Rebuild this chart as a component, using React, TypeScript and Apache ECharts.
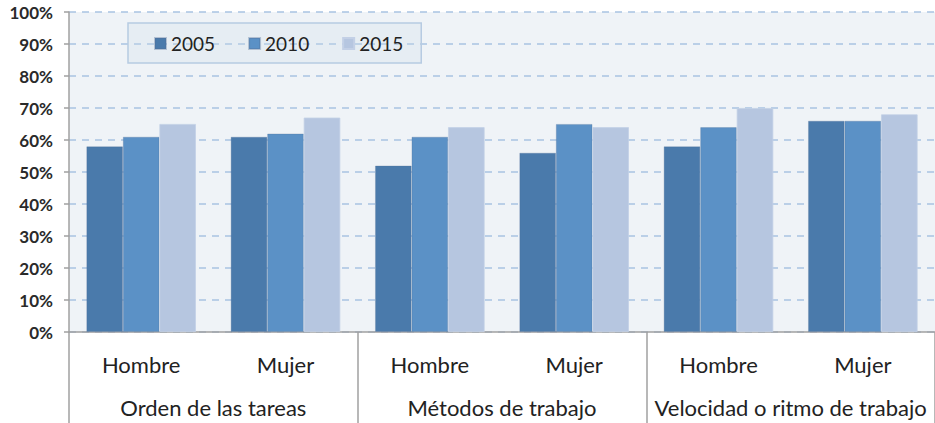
import React, { useEffect, useRef } from "react";
import * as echarts from "echarts";

const subCategories = ["Hombre", "Mujer", "Hombre", "Mujer", "Hombre", "Mujer"];
const groups = ["Orden de las tareas", "Métodos de trabajo", "Velocidad o ritmo de trabajo"];
const years = ["2005", "2010", "2015"];
const values2005 = [58, 61, 52, 56, 58, 66];
const values2010 = [61, 62, 61, 65, 64, 66];
const values2015 = [65, 67, 64, 64, 70, 68];
const yearColors = ["#4a7aab", "#5b91c6", "#b6c6e0"];

const FONT = "Lato, 'Open Sans', sans-serif";

export default function App() {
  const ref = useRef<HTMLDivElement>(null);
  useEffect(() => {
    if (!ref.current) return;
    const chart = echarts.init(ref.current, null, { renderer: "svg" });
    const seriesData = [values2005, values2010, values2015];
    chart.setOption({
      animation: false,
      backgroundColor: "#ffffff",
      textStyle: { fontFamily: FONT },
      grid: {
        left: 69,
        top: 12,
        width: 871,
        height: 320,
        show: true,
        backgroundColor: "#eff3f7",
        borderWidth: 0,
      },
      legend: {
        left: 128,
        top: 23,
        itemWidth: 11,
        itemHeight: 11,
        itemGap: 33,
        padding: [11, 18, 10, 26],
        backgroundColor: "rgba(205,218,232,0.25)",
        borderColor: "#b7cbe2",
        borderWidth: 1.5,
        icon: "rect",
        textStyle: { fontSize: 19, color: "#222", fontFamily: FONT },
        data: years,
      },
      xAxis: [
        {
          type: "category",
          data: subCategories,
          position: "bottom",
          axisLine: { show: true, lineStyle: { color: "#a0a0a0", width: 1.5 } },
          axisTick: { show: false },
          axisLabel: { interval: 0, margin: 21, fontSize: 22, color: "#222", fontFamily: FONT },
          splitLine: { show: false },
        },
        {
          type: "category",
          data: groups,
          position: "bottom",
          offset: 0,
          axisLine: { show: false },
          axisTick: { show: true, interval: 0, length: 100, lineStyle: { color: "#a0a0a0", width: 1.5 } },
          axisLabel: { interval: 0, margin: 64, fontSize: 22, color: "#222", fontFamily: FONT },
          splitLine: { show: false },
        },
      ],
      yAxis: {
        type: "value",
        min: 0,
        max: 100,
        interval: 10,
        axisLine: { show: true, lineStyle: { color: "#a0a0a0", width: 1.5 } },
        axisTick: { show: true, length: 5, lineStyle: { color: "#a0a0a0", width: 1.5 } },
        axisLabel: {
          formatter: "{value}%",
          margin: 16,
          fontSize: 17,
          fontWeight: "bold",
          color: "#2a2a2a",
          fontFamily: FONT,
        },
        splitLine: {
          show: true,
          lineStyle: { color: "#a9c4e2", width: 1.5, type: [7, 6] },
        },
      },
      series: years.map((y, i) => ({
        name: y,
        type: "bar",
        xAxisIndex: 0,
        data: seriesData[i],
        barWidth: 36.5,
        barGap: "0%",
        itemStyle: {
          color: yearColors[i],
          borderColor: i === 2 ? "#c3d0e6" : "rgba(80,110,150,0.35)",
          borderWidth: 0.8,
        },
      })),
    });
    return () => chart.dispose();
  }, []);
  return <div ref={ref} style={{ width: 935, height: 423, position: "absolute", left: 0, top: 0 }} />;
}
